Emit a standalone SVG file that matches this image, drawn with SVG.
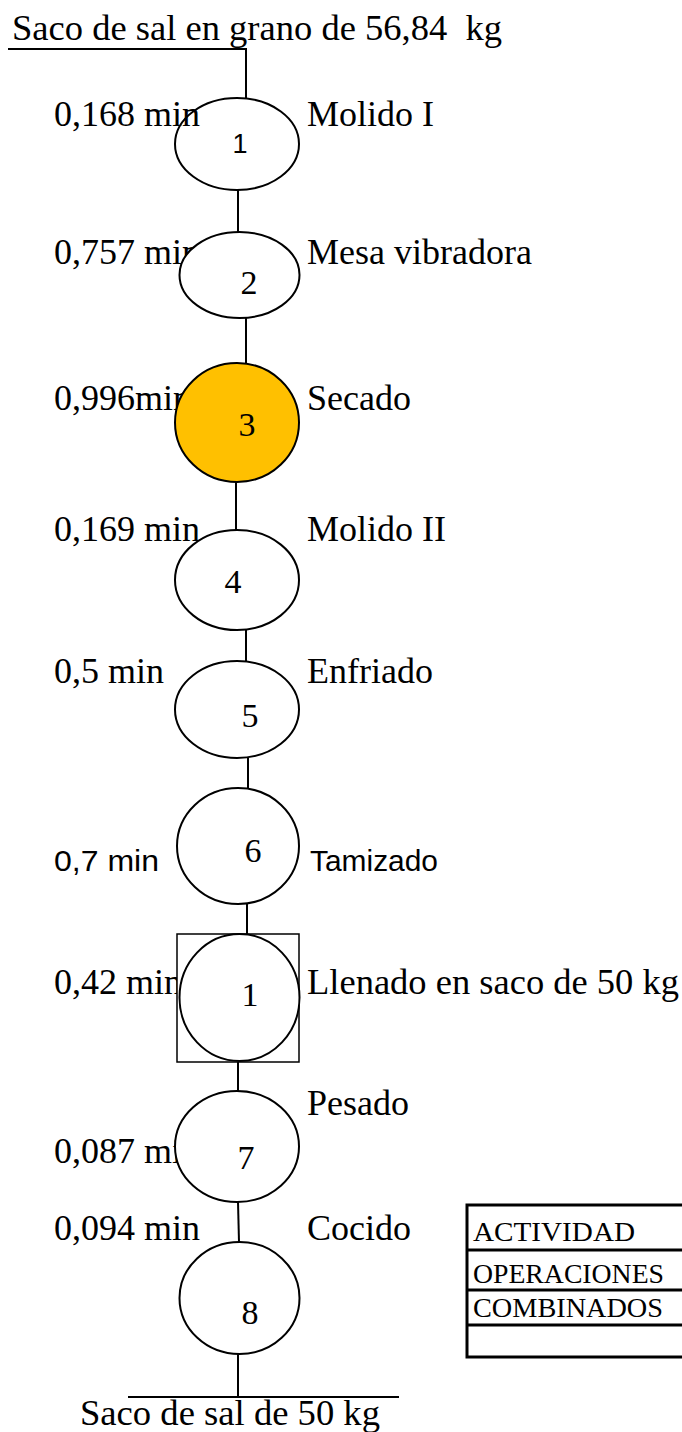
<svg xmlns="http://www.w3.org/2000/svg" width="682" height="1432" viewBox="0 0 682 1432">
<style>
.t{font-family:"Liberation Serif","Times New Roman",serif;font-size:36px;fill:#000}
.s{font-family:"Liberation Sans",Arial,sans-serif;font-size:30px;fill:#000}
.n{font-family:"Liberation Serif","Times New Roman",serif;font-size:34px;fill:#000;text-anchor:middle}
.tb{font-family:"Liberation Serif","Times New Roman",serif;font-size:28px;fill:#000}
.op{fill:#fff;stroke:#000;stroke-width:2}
.c{fill:none;stroke:#000;stroke-width:2}
</style>
<rect width="682" height="1432" fill="#fff"/>
<g id="connectors">
<polyline class="c" points="8,49 246,49 246,98"/>
<line class="c" x1="238" y1="190" x2="238" y2="232"/>
<line class="c" x1="246" y1="318" x2="246" y2="363"/>
<line class="c" x1="236" y1="482" x2="236" y2="530"/>
<line class="c" x1="246" y1="630" x2="246" y2="661"/>
<line class="c" x1="248" y1="758" x2="248" y2="788"/>
<line class="c" x1="247" y1="904" x2="247" y2="934"/>
<line class="c" x1="238" y1="1062" x2="238" y2="1091"/>
<line class="c" x1="238" y1="1202" x2="239" y2="1242"/>
<line class="c" x1="238" y1="1354" x2="238" y2="1397"/>
<line class="c" x1="128" y1="1397" x2="399" y2="1397"/>
</g>
<g id="labels-behind">
<text class="t" x="54" y="264">0,757 min</text>
<text class="t" x="54" y="410">0,996min</text>
<text class="t" x="54" y="994">0,42 min</text>
<text class="t" x="54" y="1163">0,087 min</text>
</g>
<g id="start">
<text class="t" x="12" y="40" textLength="490" lengthAdjust="spacingAndGlyphs" xml:space="preserve">Saco de sal en grano de 56,84  kg</text>
</g>
<g id="op1">
<ellipse class="op" cx="237" cy="144" rx="62" ry="46"/>
<text x="240" y="153" text-anchor="middle" style="font-family:'Liberation Sans',Arial,sans-serif;font-size:27px">1</text>
<text class="t" x="54" y="126">0,168 min</text>
<text class="t" x="307" y="126">Molido I</text>
</g>
<g id="op2">
<ellipse class="op" cx="239.5" cy="275" rx="60" ry="43"/>
<text class="n" x="249" y="294">2</text>
<text class="t" x="307" y="264">Mesa vibradora</text>
</g>
<g id="op3">
<ellipse cx="237" cy="422.5" rx="62" ry="59.5" fill="#FFC000" stroke="#000" stroke-width="2"/>
<text class="n" x="247" y="436">3</text>
<text class="t" x="307" y="410">Secado</text>
</g>
<g id="op4">
<ellipse class="op" cx="237" cy="580" rx="62" ry="50"/>
<text class="n" x="233" y="593">4</text>
<text class="t" x="54" y="541">0,169 min</text>
<text class="t" x="307" y="541">Molido II</text>
</g>
<g id="op5">
<ellipse class="op" cx="237" cy="709.5" rx="62" ry="48.5"/>
<text class="n" x="250" y="727">5</text>
<text class="t" x="54" y="683">0,5 min</text>
<text class="t" x="307" y="683">Enfriado</text>
</g>
<g id="op6">
<ellipse class="op" cx="238" cy="846" rx="61" ry="58"/>
<text class="n" x="253" y="862">6</text>
<text class="s" x="54" y="871" textLength="105" lengthAdjust="spacingAndGlyphs">0,7 min</text>
<text class="s" x="310" y="871" textLength="128" lengthAdjust="spacingAndGlyphs">Tamizado</text>
</g>
<g id="comb1">
<rect x="177" y="934" width="122" height="128" fill="#fff" stroke="#000" stroke-width="1.5"/>
<ellipse class="op" cx="239.5" cy="997.5" rx="60" ry="63.5"/>
<text class="n" x="250" y="1006">1</text>
<text class="t" x="307" y="994" textLength="372" lengthAdjust="spacingAndGlyphs">Llenado en saco de 50 kg</text>
</g>
<g id="op7">
<ellipse class="op" cx="237" cy="1146.5" rx="62" ry="55.5"/>
<text class="n" x="246" y="1169">7</text>
<text class="t" x="307" y="1115">Pesado</text>
</g>
<g id="op8">
<ellipse class="op" cx="239.5" cy="1298" rx="60" ry="56"/>
<text class="n" x="250" y="1324">8</text>
<text class="t" x="54" y="1240">0,094 min</text>
<text class="t" x="307" y="1240">Cocido</text>
</g>
<g id="end">
<text class="t" x="80" y="1425" textLength="300" lengthAdjust="spacingAndGlyphs">Saco de sal de 50 kg</text>
</g>
<g id="table">
<rect x="467" y="1205" width="225" height="152" fill="#fff" stroke="#000" stroke-width="3"/>
<line x1="467" y1="1250" x2="692" y2="1250" stroke="#000" stroke-width="3"/>
<line x1="467" y1="1290" x2="692" y2="1290" stroke="#000" stroke-width="3"/>
<line x1="467" y1="1325" x2="692" y2="1325" stroke="#000" stroke-width="3"/>
<text class="tb" x="473" y="1241" textLength="162" lengthAdjust="spacingAndGlyphs">ACTIVIDAD</text>
<text class="tb" x="473" y="1283" textLength="191" lengthAdjust="spacingAndGlyphs">OPERACIONES</text>
<text class="tb" x="473" y="1317" textLength="190" lengthAdjust="spacingAndGlyphs">COMBINADOS</text>
</g>
</svg>
